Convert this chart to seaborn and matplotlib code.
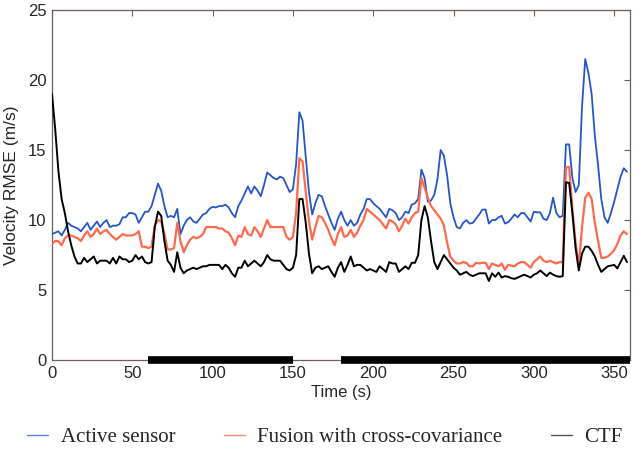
import numpy as np
import pandas as pd
import matplotlib
matplotlib.use("Agg")
import matplotlib.pyplot as plt
from matplotlib.lines import Line2D
import seaborn as sns

# ---- data ----
time_s = list(range(0, 360, 2))

active_sensor = [
    9.0, 9.1, 9.2, 8.9, 9.3, 9.8, 9.6, 9.5, 9.4, 9.2,
    9.5, 9.8, 9.3, 9.6, 9.9, 9.5, 9.8, 10.0, 9.5, 9.6,
    9.6, 9.7, 10.2, 10.2, 10.5, 10.5, 10.4, 9.8, 10.2, 10.6,
    10.6, 11.0, 11.8, 12.6, 12.1, 11.0, 10.2, 10.3, 10.2, 10.8,
    9.0, 9.6, 10.0, 10.2, 9.9, 9.8, 10.1, 10.4, 10.5, 10.8,
    10.95, 10.9, 11.0, 11.0, 11.1, 10.9, 10.5, 10.2, 11.0, 11.4,
    11.9, 12.4, 11.9, 12.4, 12.1, 11.7, 12.5, 13.4, 13.2, 13.0,
    12.9, 13.1, 13.0, 12.5, 12.0, 12.2, 14.0, 17.7, 17.1, 14.5,
    12.0, 10.4, 11.2, 11.8, 11.7, 11.0, 10.4, 9.8, 9.3, 10.1,
    10.6, 10.0, 9.6, 10.0, 9.6, 9.8, 10.4, 10.8, 11.5, 11.5,
    11.2, 11.0, 10.8, 10.5, 10.2, 10.8, 10.7, 10.5, 10.0, 10.2,
    10.6, 10.5, 11.1, 11.2, 11.5, 13.6, 13.0, 11.3, 11.4, 11.8,
    12.9, 15.0, 14.6, 13.2, 11.2, 10.2, 9.5, 9.4, 9.8, 10.0,
    9.75, 9.8, 10.1, 10.4, 10.75, 10.75, 9.75, 10.0, 10.0, 10.2,
    10.3, 9.75, 9.85, 10.1, 10.4, 10.2, 10.5, 10.5, 10.2, 9.9,
    10.6, 10.55, 10.55, 10.1, 10.0, 10.5, 11.6, 10.5, 10.2, 10.3,
    15.4, 15.4, 13.0, 12.0, 12.5, 18.1, 21.5, 20.5, 19.0, 16.0,
    13.9, 11.5, 10.2, 9.8, 10.5, 11.3, 12.2, 13.1, 13.7, 13.45,
]

fusion_cross_cov = [
    8.3, 8.5, 8.5, 8.2, 8.7, 8.9, 8.9, 8.8, 8.7, 8.5,
    8.9, 9.2, 8.8, 9.0, 9.4, 9.0, 9.2, 9.3, 9.0, 8.8,
    8.6, 8.8, 9.0, 8.9, 8.9, 8.9, 9.0, 9.2, 8.1, 8.1,
    8.0, 8.1, 9.6, 10.0, 9.9, 9.0, 7.9, 7.9, 8.0, 9.8,
    8.5, 7.7, 8.2, 8.6, 8.8, 8.7, 8.8, 9.0, 9.5, 9.5,
    9.5, 9.5, 9.4, 9.4, 9.2, 9.1, 8.7, 8.2, 8.9, 8.8,
    9.5, 9.0, 8.9, 9.5, 9.2, 8.8, 9.4, 10.0, 9.5, 9.5,
    9.5, 9.5, 9.5, 8.8, 8.6, 8.8, 10.5, 14.4, 14.2, 12.0,
    9.9, 8.6, 9.5, 10.3, 10.2, 9.8, 9.3, 8.7, 8.2, 9.0,
    9.5, 8.8, 8.9, 9.3, 8.8, 9.1, 9.6, 10.0, 10.8, 10.6,
    10.4, 10.2, 10.0, 9.7, 9.4, 10.0, 9.9, 9.7, 9.2, 9.6,
    10.1, 9.75, 10.2, 10.5, 10.6, 13.0, 12.3, 11.6, 11.0, 10.7,
    10.4, 10.1, 9.6, 8.4, 7.4, 7.1, 6.9, 6.9, 7.0, 6.95,
    6.7, 6.7, 6.95, 6.9, 6.95, 6.95, 6.5, 6.9, 6.8, 6.7,
    6.9, 6.45, 6.8, 6.75, 6.7, 6.9, 7.0, 7.0, 6.8, 6.6,
    7.0, 7.2, 7.4, 7.1, 7.0, 7.1, 7.0, 6.9, 7.0, 7.0,
    13.75, 13.8, 10.8, 8.4, 6.7, 9.5, 11.6, 11.95, 11.5, 9.8,
    8.5, 7.3, 7.3, 7.4, 7.6, 7.85, 8.3, 8.9, 9.2, 9.0,
]

ctf = [
    19.0, 16.5, 13.5, 11.5, 10.5, 9.2, 8.2, 7.4, 6.9, 6.9,
    7.3, 7.0, 7.2, 7.4, 6.9, 7.1, 7.1, 7.1, 6.9, 7.3,
    6.9, 7.4, 7.2, 7.2, 7.0, 7.1, 7.5, 7.2, 7.4, 7.0,
    6.9, 7.0, 9.5, 10.6, 10.3, 8.5, 7.1, 6.8, 6.3, 7.7,
    6.6, 6.2, 6.4, 6.5, 6.6, 6.5, 6.6, 6.7, 6.7, 6.8,
    6.8, 6.8, 6.8, 6.5, 6.8, 6.6, 6.2, 5.95, 6.6, 6.6,
    7.1, 6.7, 6.9, 7.1, 6.9, 6.7, 7.0, 7.5, 7.2, 7.1,
    7.1, 7.1, 6.8, 6.5, 6.4, 6.6, 7.5, 11.5, 11.5, 9.8,
    7.6, 6.2, 6.6, 6.7, 6.5, 6.6, 6.7, 6.3, 5.95, 6.6,
    7.0, 6.3, 6.8, 7.4, 6.7, 6.8, 6.8, 6.6, 6.4, 6.5,
    6.4, 6.3, 6.7, 6.5, 6.3, 7.0, 6.9, 6.9, 6.3, 6.5,
    6.7, 6.5, 6.95, 6.95, 7.5, 10.0, 11.0, 10.2, 8.5, 7.0,
    6.5, 7.0, 7.5, 7.2, 6.9, 6.6, 6.4, 6.1, 6.2, 6.3,
    6.1, 6.0, 6.1, 6.2, 6.2, 6.2, 5.65, 6.2, 5.95, 6.25,
    5.9, 6.0, 5.95, 5.85, 5.8, 5.9, 6.0, 6.1, 6.0, 5.9,
    6.1, 6.2, 6.4, 6.2, 6.0, 6.25, 6.1, 6.0, 5.95, 6.0,
    12.7, 12.65, 10.5, 8.0, 6.4, 7.6, 8.1, 8.1, 7.8, 7.4,
    6.8, 6.3, 6.5, 6.7, 6.75, 6.8, 6.55, 7.0, 7.45, 7.0,
]

series_names = ["Active sensor", "Fusion with cross-covariance", "CTF"]
series_colors = ["#2456c8", "#ff6a4d", "#000000"]
series_widths = [1.3, 1.6, 1.4]

# intervals drawn as thick black bars on the time axis
interval_start = [60, 180]
interval_end = [150, 360]

x_ticks = [0, 50, 100, 150, 200, 250, 300, 350]
y_ticks = [0, 5, 10, 15, 20, 25]

# ---- build long-form table ----
df = pd.DataFrame({
    "Time (s)": time_s * 3,
    "RMSE": active_sensor + fusion_cross_cov + ctf,
    "Series": sum([[n] * len(time_s) for n in series_names], []),
})

sns.set_style("white")
plt.rcParams["font.family"] = ["Liberation Sans", "DejaVu Sans"]

fig = plt.figure(figsize=(6.34, 4.53), dpi=100)
ax = fig.add_axes([0.082, 0.205, 0.912, 0.773])

for name, col, lw in zip(series_names, series_colors, series_widths):
    sns.lineplot(data=df[df["Series"] == name], x="Time (s)", y="RMSE",
                 color=col, lw=lw, ax=ax, legend=False, zorder=3)

ax.hlines([0] * len(interval_start), interval_start, interval_end,
          colors="black", lw=5.5, clip_on=False, zorder=5)

ax.set_xlim(0, 360)
ax.set_ylim(0, 25)
ax.set_xticks(x_ticks)
ax.set_yticks(y_ticks)
ax.set_xlabel("Time (s)", fontsize=12, labelpad=3)
ax.set_ylabel("Velocity RMSE (m/s)", fontsize=12.5, labelpad=6)

spine_col = "#6e5d58"
for s in ax.spines.values():
    s.set_visible(True)
    s.set_color(spine_col)
    s.set_linewidth(0.9)
ax.tick_params(axis="both", which="both", direction="in", length=4,
               width=0.8, color=spine_col, top=True, right=True,
               labelsize=12, pad=4)

handles = [Line2D([], [], color=c, lw=1.0) for c in ["#5b80e0", "#ff8a78", "#555555"]]
fig.legend(handles, series_names, loc="center", ncol=3, frameon=False,
           bbox_to_anchor=(0.03, 0.01, 0.965, 0.05), mode="expand",
           prop={"family": "Liberation Serif", "size": 15},
           handlelength=1.0, handletextpad=0.6, borderaxespad=0)

fig.savefig("out.png", dpi=100, facecolor="white")
